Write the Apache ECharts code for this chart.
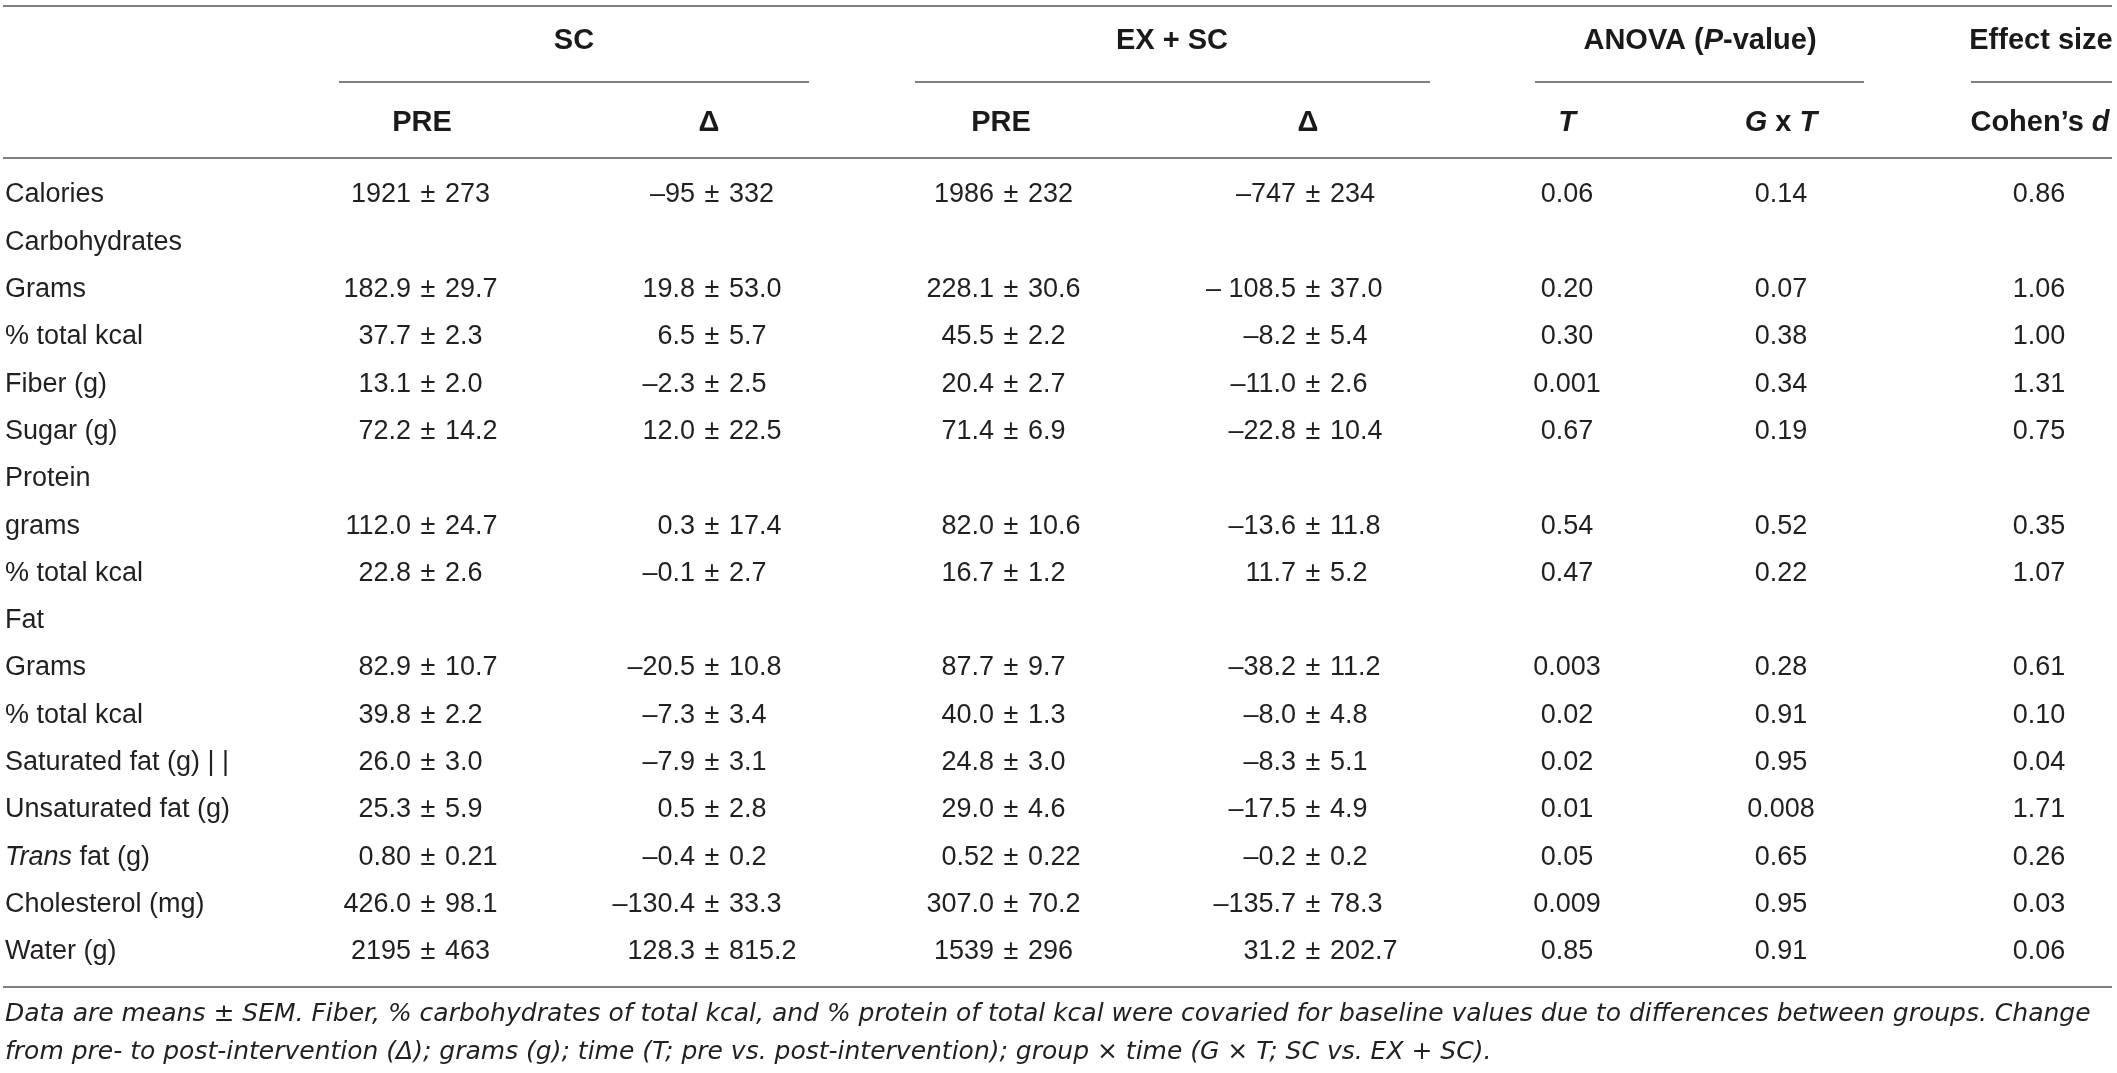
<!DOCTYPE html>
<html>
<head>
<meta charset="UTF-8">
<title>Dietary intake</title>
<script src="https://cdn.jsdelivr.net/npm/echarts@6/dist/echarts.min.js"></script>
<style>
body{margin:0;padding:0;background:#fff;}
#main{width:2117px;height:1073px;}
</style>
</head>
<body>
<div id="main"></div>
<script>
// row labels (first column)
var rowLabels = ['Calories', 'Carbohydrates', 'Grams', '% total kcal', 'Fiber (g)', 'Sugar (g)',
  'Protein', 'grams', '% total kcal', 'Fat', 'Grams', '% total kcal', 'Saturated fat (g) | |',
  'Unsaturated fat (g)', 'Trans fat (g)', 'Cholesterol (mg)', 'Water (g)'];

// SC group
var scPre = ['1921 ± 273', null, '182.9 ± 29.7', '37.7 ± 2.3', '13.1 ± 2.0', '72.2 ± 14.2',
  null, '112.0 ± 24.7', '22.8 ± 2.6', null, '82.9 ± 10.7', '39.8 ± 2.2', '26.0 ± 3.0',
  '25.3 ± 5.9', '0.80 ± 0.21', '426.0 ± 98.1', '2195 ± 463'];
var scDelta = ['–95 ± 332', null, '19.8 ± 53.0', '6.5 ± 5.7', '–2.3 ± 2.5', '12.0 ± 22.5',
  null, '0.3 ± 17.4', '–0.1 ± 2.7', null, '–20.5 ± 10.8', '–7.3 ± 3.4', '–7.9 ± 3.1',
  '0.5 ± 2.8', '–0.4 ± 0.2', '–130.4 ± 33.3', '128.3 ± 815.2'];

// EX + SC group
var exPre = ['1986 ± 232', null, '228.1 ± 30.6', '45.5 ± 2.2', '20.4 ± 2.7', '71.4 ± 6.9',
  null, '82.0 ± 10.6', '16.7 ± 1.2', null, '87.7 ± 9.7', '40.0 ± 1.3', '24.8 ± 3.0',
  '29.0 ± 4.6', '0.52 ± 0.22', '307.0 ± 70.2', '1539 ± 296'];
var exDelta = ['–747 ± 234', null, '– 108.5 ± 37.0', '–8.2 ± 5.4', '–11.0 ± 2.6', '–22.8 ± 10.4',
  null, '–13.6 ± 11.8', '11.7 ± 5.2', null, '–38.2 ± 11.2', '–8.0 ± 4.8', '–8.3 ± 5.1',
  '–17.5 ± 4.9', '–0.2 ± 0.2', '–135.7 ± 78.3', '31.2 ± 202.7'];

// ANOVA P-values and effect size
var pTime = ['0.06', null, '0.20', '0.30', '0.001', '0.67', null, '0.54', '0.47', null,
  '0.003', '0.02', '0.02', '0.01', '0.05', '0.009', '0.85'];
var pGroupTime = ['0.14', null, '0.07', '0.38', '0.34', '0.19', null, '0.52', '0.22', null,
  '0.28', '0.91', '0.95', '0.008', '0.65', '0.95', '0.91'];
var cohenD = ['0.86', null, '1.06', '1.00', '1.31', '0.75', null, '0.35', '1.07', null,
  '0.61', '0.10', '0.04', '1.71', '0.26', '0.03', '0.06'];

// header texts
var groupHeads = ['SC', 'EX + SC', 'ANOVA ({bi|P}-value)', 'Effect size'];
var colHeads = ['PRE', 'Δ', 'PRE', 'Δ', '{bi|T}', '{bi|G} x {bi|T}', 'Cohen’s {bi|d}'];
var footLines = [
  'Data are means ± SEM. Fiber, % carbohydrates of total kcal, and % protein of total kcal were covaried for baseline values due to differences between groups. Change',
  'from pre- to post-intervention (Δ); grams (g); time (T; pre vs. post-intervention); group × time (G × T; SC vs. EX + SC).'
];

// layout
var colX = [428, 712, 1011, 1313, 1567, 1781, 2039];
var pmAligned = [true, true, true, true, false, false, false];
var groupX = [574, 1172, 1700, 2041];
var groupSpan = [[339, 809], [915, 1430], [1535, 1864], [1971, 2112]];
var headX = [422, 709, 1001, 1308, 1567, 1781, 2040];
var FONT = '"Liberation Sans", Arial, sans-serif';
var INK = '#231f20';
var RULE = '#808080';
var bodySize = 27;
var headSize = 29;
var pmGap = 17;

var columns = [scPre, scDelta, exPre, exDelta, pTime, pGroupTime, cohenD];
var cells = [];
columns.forEach(function (col, c) {
  col.forEach(function (v, r) {
    if (v) cells.push({ value: [colX[c], r], text: v, pm: pmAligned[c] });
  });
});

function txt(text, x, y, align) {
  return {
    type: 'text',
    style: {
      text: text, x: x, y: y, textAlign: align, textVerticalAlign: 'middle',
      fontFamily: FONT, fontSize: bodySize, fill: INK
    }
  };
}

// each cell sits on the x value of its column and the category row of its label
function renderCell(params, api) {
  var cell = cells[params.dataIndex];
  var p = api.coord([api.value(0), api.value(1)]);
  if (!cell.pm) return txt(cell.text, p[0], p[1], 'center');
  var parts = cell.text.split(' ± ');
  return {
    type: 'group',
    children: [
      txt(parts[0], p[0] - pmGap, p[1], 'right'),
      txt('±', p[0], p[1], 'center'),
      txt(parts[1], p[0] + pmGap, p[1], 'left')
    ]
  };
}

var headRich = {
  bi: { fontFamily: FONT, fontSize: headSize, fontWeight: 'bold', fontStyle: 'italic', fill: '#1a1a1a' }
};
function headText(text, x, y) {
  return {
    type: 'text',
    style: {
      text: text, x: x, y: y, textAlign: 'center', textVerticalAlign: 'middle',
      fontFamily: FONT, fontSize: headSize, fontWeight: 'bold', fill: '#1a1a1a', rich: headRich
    }
  };
}
function rule(x1, x2, y) {
  return { type: 'line', shape: { x1: x1, y1: y, x2: x2, y2: y }, style: { stroke: RULE, lineWidth: 2 } };
}

var graphics = [rule(3, 2112, 6), rule(3, 2112, 158), rule(3, 2112, 987)];
groupHeads.forEach(function (h, i) {
  graphics.push(headText(h, groupX[i], 41));
  graphics.push(rule(groupSpan[i][0], groupSpan[i][1], 82));
});
colHeads.forEach(function (h, i) {
  graphics.push(headText(h, headX[i], 123));
});
footLines.forEach(function (t, i) {
  graphics.push({
    type: 'text',
    style: {
      text: t, x: 5, y: 1014 + i * 38, textAlign: 'left', textVerticalAlign: 'middle',
      fontFamily: '"DejaVu Sans", sans-serif', fontSize: 25, fontStyle: 'italic', fill: INK
    }
  });
});

var chart = echarts.init(document.getElementById('main'));
chart.setOption({
  animation: false,
  backgroundColor: '#fff',
  grid: { left: 0, right: 0, top: 171.35, bottom: 97.55 },
  xAxis: { type: 'value', min: 0, max: 2117, show: false },
  yAxis: {
    type: 'category',
    inverse: true,
    data: rowLabels,
    axisLine: { show: false },
    axisTick: { show: false },
    splitLine: { show: false },
    axisLabel: {
      inside: true,
      margin: 5,
      align: 'left',
      fontFamily: FONT,
      fontSize: bodySize,
      color: INK,
      formatter: function (v) { return v.replace(/^Trans/, '{i|Trans}'); },
      rich: { i: { fontFamily: FONT, fontSize: bodySize, fontStyle: 'italic', color: INK } }
    }
  },
  series: [{
    type: 'custom',
    renderItem: renderCell,
    data: cells,
    silent: true
  }],
  graphic: graphics
});
</script>
</body>
</html>
